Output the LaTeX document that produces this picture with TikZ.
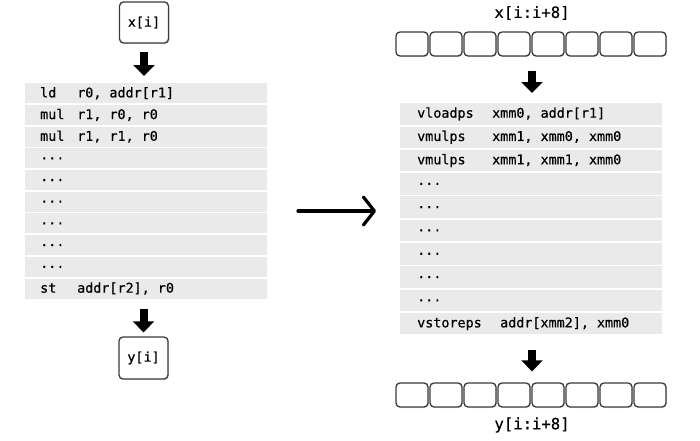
\documentclass[tikz,border=0pt]{standalone}
\usepackage{fontspec}
\setmonofont{DejaVu Sans Mono}[FakeBold=0.5]
\usetikzlibrary{arrows.meta,shadows}
\definecolor{rowgray}{HTML}{EAEAEA}
\definecolor{boxedge}{HTML}{3A3A3A}
\newcommand{\codefont}{\ttfamily\fontsize{13.4}{15}\selectfont}
\newcommand{\ins}[3]{\makebox[#1][l]{#2}#3}
\newcommand{\elide}{...}
% one fixed-width blank, one character cell wide
\newcommand{\cellsp}{\hspace{0.602em}}
\begin{document}
\begin{tikzpicture}[x=1pt,y=-1pt,
  codeline/.style={fill=rowgray, anchor=north west, minimum height=#1,
    inner ysep=0pt, align=left, font=\codefont},
  leftrow/.style={codeline=20pt, text width=212pt, inner xsep=15pt},
  rightrow/.style={codeline=21.5pt, text width=228pt, inner xsep=17pt},
  valbox/.style={draw=boxedge, line width=1.3pt, rounded corners=4pt, fill=white,
    drop shadow={shadow xshift=1pt, shadow yshift=-1pt, opacity=0.25}},
  cell/.style={valbox, minimum width=32pt, minimum height=24pt, inner sep=0pt},
  blk/.style={line width=8pt, -{Triangle[width=21pt,length=11pt]}},
  bigarrow/.style={line width=3.2pt, line cap=round,
    -{Straight Barb[length=11pt,width=28pt,line cap=round,line join=round]}}]
\useasboundingbox (0,0) rectangle (700,440);

% scalar version: one element in, ten instructions, one element out
\node[valbox, minimum width=49pt, minimum height=41pt, font=\codefont]
  (xi) at (144,22.5) {x[i]};
\foreach \k/\m/\o in {1/ld/{r0,\cellsp addr[r1]}, 2/mul/{r1,\cellsp r0,\cellsp r0},
    3/mul/{r1,\cellsp r1,\cellsp r0},
    4/\elide/{}, 5/\elide/{}, 6/\elide/{}, 7/\elide/{}, 8/\elide/{}, 9/\elide/{},
    10/st/{addr[r2],\cellsp r0}}
  \node[leftrow] (L\k) at (25,{83+21.7*(\k-1)}) {\ins{37pt}{\m}{\o}};
\node[valbox, minimum width=49pt, minimum height=42pt, font=\codefont]
  (yi) at (143.5,358) {y[i]};

\draw[blk, shorten <=8pt, shorten >=7pt] (xi.south) -- (xi.south |- L1.north);
\draw[blk, shorten <=10pt, shorten >=4pt] (yi.north |- L10.south) -- (yi.north);

% vector version: eight lanes at once
\node[font=\ttfamily\fontsize{15.6}{17}\selectfont] (xlab) at (532,13) {x[i:i+8]};
\foreach \j in {1,...,8}
  \node[cell] (xb\j) at ({412+34*(\j-1)},44) {};
\foreach \k/\m/\o/\w in {1/vloadps/{xmm0,\cellsp addr[r1]}/75pt,
    2/vmulps/{xmm1,\cellsp xmm0,\cellsp xmm0}/75pt,
    3/vmulps/{xmm1,\cellsp xmm1,\cellsp xmm0}/75pt,
    4/\elide/{}/75pt, 5/\elide/{}/75pt, 6/\elide/{}/75pt,
    7/\elide/{}/75pt, 8/\elide/{}/75pt, 9/\elide/{}/75pt,
    10/vstoreps/{addr[xmm2],\cellsp xmm0}/83pt}
  \node[rightrow] (R\k) at (400,{103+23.3*(\k-1)}) {\ins{\w}{\m}{\o}};
\foreach \j in {1,...,8}
  \node[cell] (yb\j) at ({412+34*(\j-1)},395) {};
\node[font=\ttfamily\fontsize{15.6}{17}\selectfont] (ylab) at (532,425) {y[i:i+8]};

\draw[blk, shorten <=14pt, shorten >=10pt] (xlab |- xb1.south) -- (xlab |- R1.north);
\draw[blk, shorten <=15pt, shorten >=11pt] (xlab |- R10.south) -- (xlab |- yb1.north);

% scalar code becomes vector code
\coordinate (from) at (298,211);
\coordinate (to) at (376,211);
\draw[bigarrow] (from) -- (to);
\end{tikzpicture}
\end{document}
